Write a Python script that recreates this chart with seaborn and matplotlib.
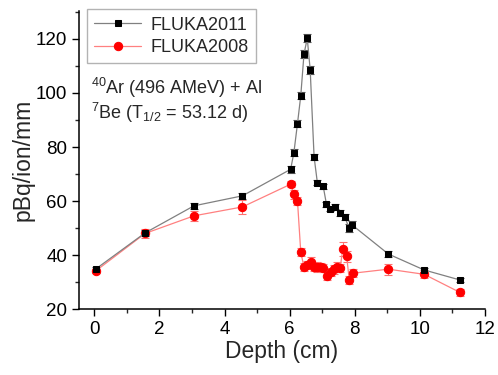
import matplotlib
matplotlib.use("Agg")
import matplotlib.pyplot as plt
import seaborn as sns
import pandas as pd
from matplotlib.ticker import MultipleLocator

# FLUKA2011 activity profile (pBq/ion/mm) vs depth (cm)
depth_2011 = [0.05, 1.56, 3.06, 4.55, 6.03, 6.13, 6.24, 6.34, 6.44, 6.54, 6.63, 6.75,
              6.85, 7.03, 7.13, 7.23, 7.40, 7.56, 7.69, 7.83, 7.90, 9.03, 10.13, 11.23]
act_2011 = [35.0, 48.3, 58.3, 62.0, 71.8, 78.0, 88.7, 98.9, 114.4, 120.2, 108.6, 76.4,
            66.9, 65.5, 58.9, 57.3, 58.0, 55.7, 54.2, 50.0, 51.4, 40.5, 34.6, 30.9]
err_2011 = [0.8, 1.0, 1.0, 1.2, 1.2, 1.2, 1.3, 1.3, 1.5, 1.5, 1.5, 1.2,
            1.0, 1.0, 1.0, 1.0, 1.0, 1.0, 1.0, 1.5, 1.2, 1.0, 0.8, 0.8]

# FLUKA2008 activity profile
depth_2008 = [0.05, 1.56, 3.06, 4.55, 6.03, 6.13, 6.24, 6.34, 6.44, 6.54, 6.65, 6.75,
              6.85, 6.95, 7.03, 7.16, 7.26, 7.36, 7.46, 7.55, 7.63, 7.75, 7.83, 7.94,
              9.03, 10.13, 11.23]
act_2008 = [34.3, 48.1, 54.6, 57.9, 66.3, 62.5, 60.1, 41.3, 35.6, 36.4, 37.6, 35.8,
            35.8, 35.8, 35.2, 32.4, 34.0, 34.8, 35.6, 35.2, 42.3, 39.7, 30.9, 33.4,
            34.9, 33.0, 26.3]
err_2008 = [0.8, 1.8, 1.8, 2.5, 1.0, 1.5, 1.5, 1.5, 1.5, 1.5, 1.8, 1.5,
            1.8, 1.5, 1.5, 1.5, 1.5, 1.8, 1.8, 1.5, 2.5, 2.0, 1.5, 1.5,
            2.0, 1.5, 1.2]

sns.set_style("ticks")
plt.rcParams["font.family"] = ["Liberation Sans", "DejaVu Sans"]
plt.rcParams["mathtext.fontset"] = "custom"
plt.rcParams["mathtext.rm"] = "Liberation Sans"

fig = plt.figure(figsize=(4.98, 3.75), dpi=100)
ax = fig.add_axes([0.1586, 0.1747, 0.8154, 0.796])

df11 = pd.DataFrame({"depth": depth_2011, "act": act_2011})
df08 = pd.DataFrame({"depth": depth_2008, "act": act_2008})

ax.errorbar(depth_2011, act_2011, yerr=err_2011, fmt="none", ecolor="#505050",
            elinewidth=0.8, capsize=3, capthick=0.8, zorder=2)
ax.errorbar(depth_2008, act_2008, yerr=err_2008, fmt="none", ecolor="#ff7070",
            elinewidth=0.8, capsize=3, capthick=0.8, zorder=2)

sns.lineplot(data=df11, x="depth", y="act", ax=ax, sort=False, color="#808080",
             lw=0.9, marker="s", markersize=5, markerfacecolor="black",
             markeredgecolor="black", label="FLUKA2011", zorder=4)
sns.lineplot(data=df08, x="depth", y="act", ax=ax, sort=False, color="#ff8080",
             lw=0.9, marker="o", markersize=6, markerfacecolor="#ff0000",
             markeredgecolor="#ff0000", label="FLUKA2008", zorder=3)

ax.set_xlim(-0.47, 12)
ax.set_ylim(20, 130.3)
ax.xaxis.set_major_locator(MultipleLocator(2))
ax.xaxis.set_minor_locator(MultipleLocator(1))
ax.yaxis.set_major_locator(MultipleLocator(20))
ax.yaxis.set_minor_locator(MultipleLocator(10))
ax.tick_params(which="major", direction="out", length=5, width=1, labelsize=13.5,
               colors="black")
ax.tick_params(which="minor", direction="out", length=3, width=1)
for s in ("top", "right"):
    ax.spines[s].set_visible(False)
for s in ("left", "bottom"):
    ax.spines[s].set_linewidth(1.1)
    ax.spines[s].set_color("black")

ax.set_xlabel("Depth (cm)", fontsize=16.5, labelpad=1)
ax.set_ylabel("pBq/ion/mm", fontsize=16.5, labelpad=1)

leg = ax.legend(loc="upper left", bbox_to_anchor=(0.02, 1.005), fontsize=13,
                frameon=True, fancybox=False, edgecolor="#a0a0a0",
                handlelength=2.6, borderpad=0.4, labelspacing=0.3,
                handletextpad=0.5, borderaxespad=0)
leg.get_frame().set_linewidth(1.0)

ax.text(0.03, 0.742, r"$^{40}$Ar (496 AMeV) + Al", transform=ax.transAxes,
        fontsize=13, va="center", ha="left")
ax.text(0.03, 0.658, r"$^{7}$Be (T$_{1/2}$ = 53.12 d)", transform=ax.transAxes,
        fontsize=13, va="center", ha="left")

fig.savefig("out.png", dpi=100)
